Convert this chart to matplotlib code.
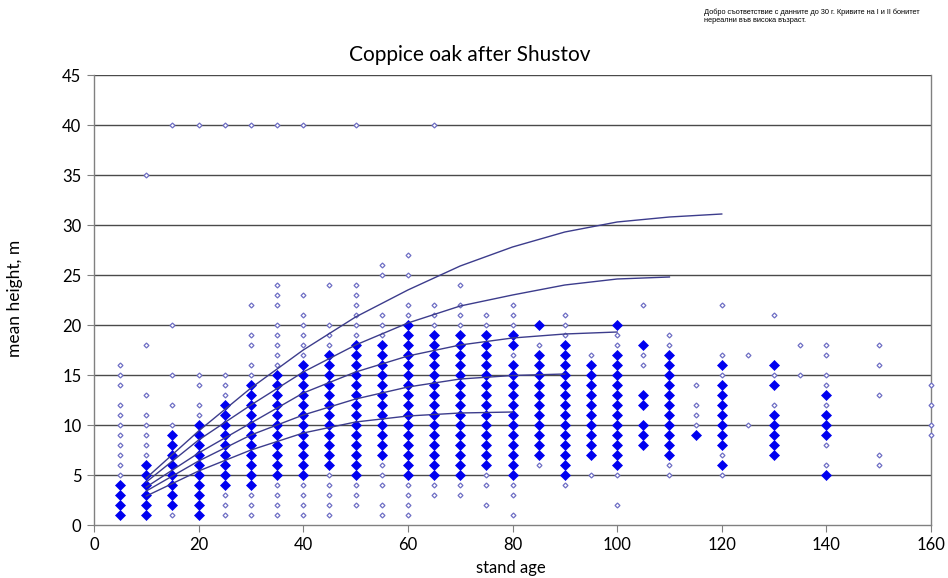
import matplotlib
matplotlib.use("Agg")
import matplotlib.pyplot as plt

# ---------------- data ----------------
title = "Coppice oak after Shustov"
x_label = "stand age"
y_label = "mean height, m"
note = ("Добро съответствие с данните до 30 г. Кривите на I и II бонитет\n"
        "нереални във висока възраст.")

# frequent observations (large filled diamonds): age -> heights
frequent = {
    5: [1, 2, 3, 4],
    10: [1, 2, 3, 4, 5, 6],
    15: [2, 3, 4, 5, 6, 7, 8, 9],
    20: [1, 2, 3, 4, 5, 6, 7, 8, 9, 10],
    25: [4, 5, 6, 7, 8, 9, 10, 11, 12],
    30: [4, 5, 6, 7, 8, 9, 10, 11, 12, 13, 14],
    35: [5, 6, 7, 8, 9, 10, 11, 12, 13, 14, 15],
    40: [5, 6, 7, 8, 9, 10, 11, 12, 13, 14, 15, 16],
    45: [6, 7, 8, 9, 10, 11, 12, 13, 14, 15, 16, 17],
    50: [5, 6, 7, 8, 9, 10, 11, 12, 13, 14, 15, 16, 17, 18],
    55: [7, 8, 9, 10, 11, 12, 13, 14, 15, 16, 17, 18],
    60: [5, 6, 7, 8, 9, 10, 11, 12, 13, 14, 15, 16, 17, 18, 19, 20],
    65: [5, 6, 7, 8, 9, 10, 11, 12, 13, 14, 15, 16, 17, 18, 19],
    70: [5, 6, 7, 8, 9, 10, 11, 12, 13, 14, 15, 16, 17, 18, 19],
    75: [6, 7, 8, 9, 10, 11, 12, 13, 14, 15, 16, 17, 18, 19],
    80: [5, 6, 7, 8, 9, 10, 11, 12, 13, 14, 15, 16, 18, 19],
    85: [7, 8, 9, 10, 11, 12, 13, 14, 15, 16, 17, 20],
    90: [5, 6, 7, 8, 9, 10, 11, 12, 13, 14, 15, 16, 17, 18],
    95: [7, 8, 9, 10, 11, 12, 13, 14, 15, 16],
    100: [6, 7, 8, 9, 10, 11, 12, 13, 14, 15, 16, 17, 20],
    105: [8, 9, 10, 12, 13, 18],
    110: [7, 8, 9, 10, 11, 12, 13, 14, 15, 16, 17],
    115: [9],
    120: [6, 8, 9, 10, 11, 12, 13, 14, 16],
    130: [7, 8, 9, 10, 11, 14, 16],
    140: [5, 9, 10, 11, 13],
}

# rare observations (small open markers): age -> heights
rare = {
    5: [5, 6, 7, 8, 9, 10, 11, 12, 14, 15, 16],
    10: [7, 8, 9, 10, 11, 13, 18, 35],
    15: [1, 10, 12, 15, 20, 40],
    20: [11, 12, 14, 15, 40],
    25: [1, 2, 3, 13, 14, 15, 40],
    30: [1, 2, 3, 15, 16, 18, 19, 22, 40],
    35: [1, 2, 3, 4, 16, 17, 18, 19, 20, 22, 23, 24, 40],
    40: [1, 2, 3, 4, 17, 18, 19, 20, 21, 23, 40],
    45: [1, 2, 3, 4, 5, 18, 19, 20, 24],
    50: [2, 3, 4, 19, 20, 21, 22, 23, 24, 40],
    55: [1, 2, 4, 5, 6, 19, 20, 21, 25, 26],
    60: [1, 2, 3, 4, 21, 22, 25, 27],
    65: [3, 4, 20, 21, 22, 40],
    70: [3, 4, 20, 21, 22, 24],
    75: [2, 4, 5, 20, 21],
    80: [1, 3, 4, 17, 20, 21, 22],
    85: [6, 18],
    90: [4, 19, 20, 21],
    95: [5, 17],
    100: [2, 5, 18, 19],
    105: [16, 17, 22],
    110: [5, 6, 18, 19],
    115: [10, 11, 12, 14],
    120: [5, 7, 15, 17, 22],
    125: [10, 17],
    130: [12, 15, 21],
    135: [15, 18],
    140: [6, 8, 12, 14, 15, 17, 18],
    150: [6, 7, 13, 16, 18],
    160: [9, 10, 12, 14],
}

# site-index curves (Shustov), heights at ages 10, 20, ...
curve_ages = [10, 20, 30, 40, 50, 60, 70, 80, 90, 100, 110, 120]
curve_I = [4.7, 9.4, 13.7, 17.5, 20.8, 23.5, 25.9, 27.8, 29.3, 30.3, 30.8, 31.1]
curve_II = [4.3, 8.5, 12.0, 15.3, 18.0, 20.2, 21.9, 23.0, 24.0, 24.6, 24.8]
curve_III = [3.8, 7.2, 10.2, 13.2, 15.3, 16.9, 18.0, 18.7, 19.1, 19.3]
curve_IV = [3.4, 6.4, 9.0, 11.0, 12.6, 13.8, 14.6, 14.95, 15.1]
curve_V = [2.9, 5.4, 7.5, 9.2, 10.3, 10.9, 11.2, 11.3]

x_ticks = [0, 20, 40, 60, 80, 100, 120, 140, 160]
y_ticks = [0, 5, 10, 15, 20, 25, 30, 35, 40, 45]

# ---------------- plot ----------------
plt.rcParams['font.family'] = ['Lato', 'DejaVu Sans']

fig = plt.figure(figsize=(9.48, 5.78), dpi=100)
ax = fig.add_axes([94 / 948, 1 - 525 / 578, (931 - 94) / 948, (525 - 75) / 578])

for yv in y_ticks[1:]:
    ax.axhline(yv, color='#4a4a4a', lw=1.0, zorder=1)

rx = [a for a, hs in rare.items() for _ in hs]
ry = [h for hs in rare.values() for h in hs]
ax.plot(rx, ry, ls='none', marker='D', ms=2.5, mfc='white', mec='#6f6fc4',
        mew=0.9, zorder=3, clip_on=False)

fx = [a for a, hs in frequent.items() for _ in hs]
fy = [h for hs in frequent.values() for h in hs]
ax.plot(fx, fy, ls='none', marker='D', ms=5.0, mfc='#0000f0', mec='#0000f0',
        mew=0.5, zorder=4)

for c in (curve_I, curve_II, curve_III, curve_IV, curve_V):
    ax.plot(curve_ages[:len(c)], c, color='#3c3c8c', lw=1.0, zorder=5)

ax.set_xlim(0, 160)
ax.set_ylim(0, 45)
ax.set_xticks(x_ticks)
ax.set_yticks(y_ticks)
ax.tick_params(axis='both', labelsize=12, length=5, color='#808080',
               direction='out', pad=4)
for s in ('left', 'bottom', 'right'):
    ax.spines[s].set_color('#808080')
    ax.spines[s].set_linewidth(1.0)
ax.spines['top'].set_visible(False)

fig.text(470 / 948, 1 - 55 / 578, title, ha='center', va='center', fontsize=15)
fig.text(511 / 948, 1 - 568 / 578, x_label, ha='center', va='center', fontsize=12)
fig.text(15 / 948, 1 - 298 / 578, y_label, ha='center', va='center',
         rotation=90, fontsize=12.5)
fig.text(704 / 948, 1 - 9 / 578, note, ha='left', va='top', fontsize=5.3,
         family=['Liberation Sans', 'DejaVu Sans'], linespacing=1.05)

fig.savefig('out.png', dpi=100)
